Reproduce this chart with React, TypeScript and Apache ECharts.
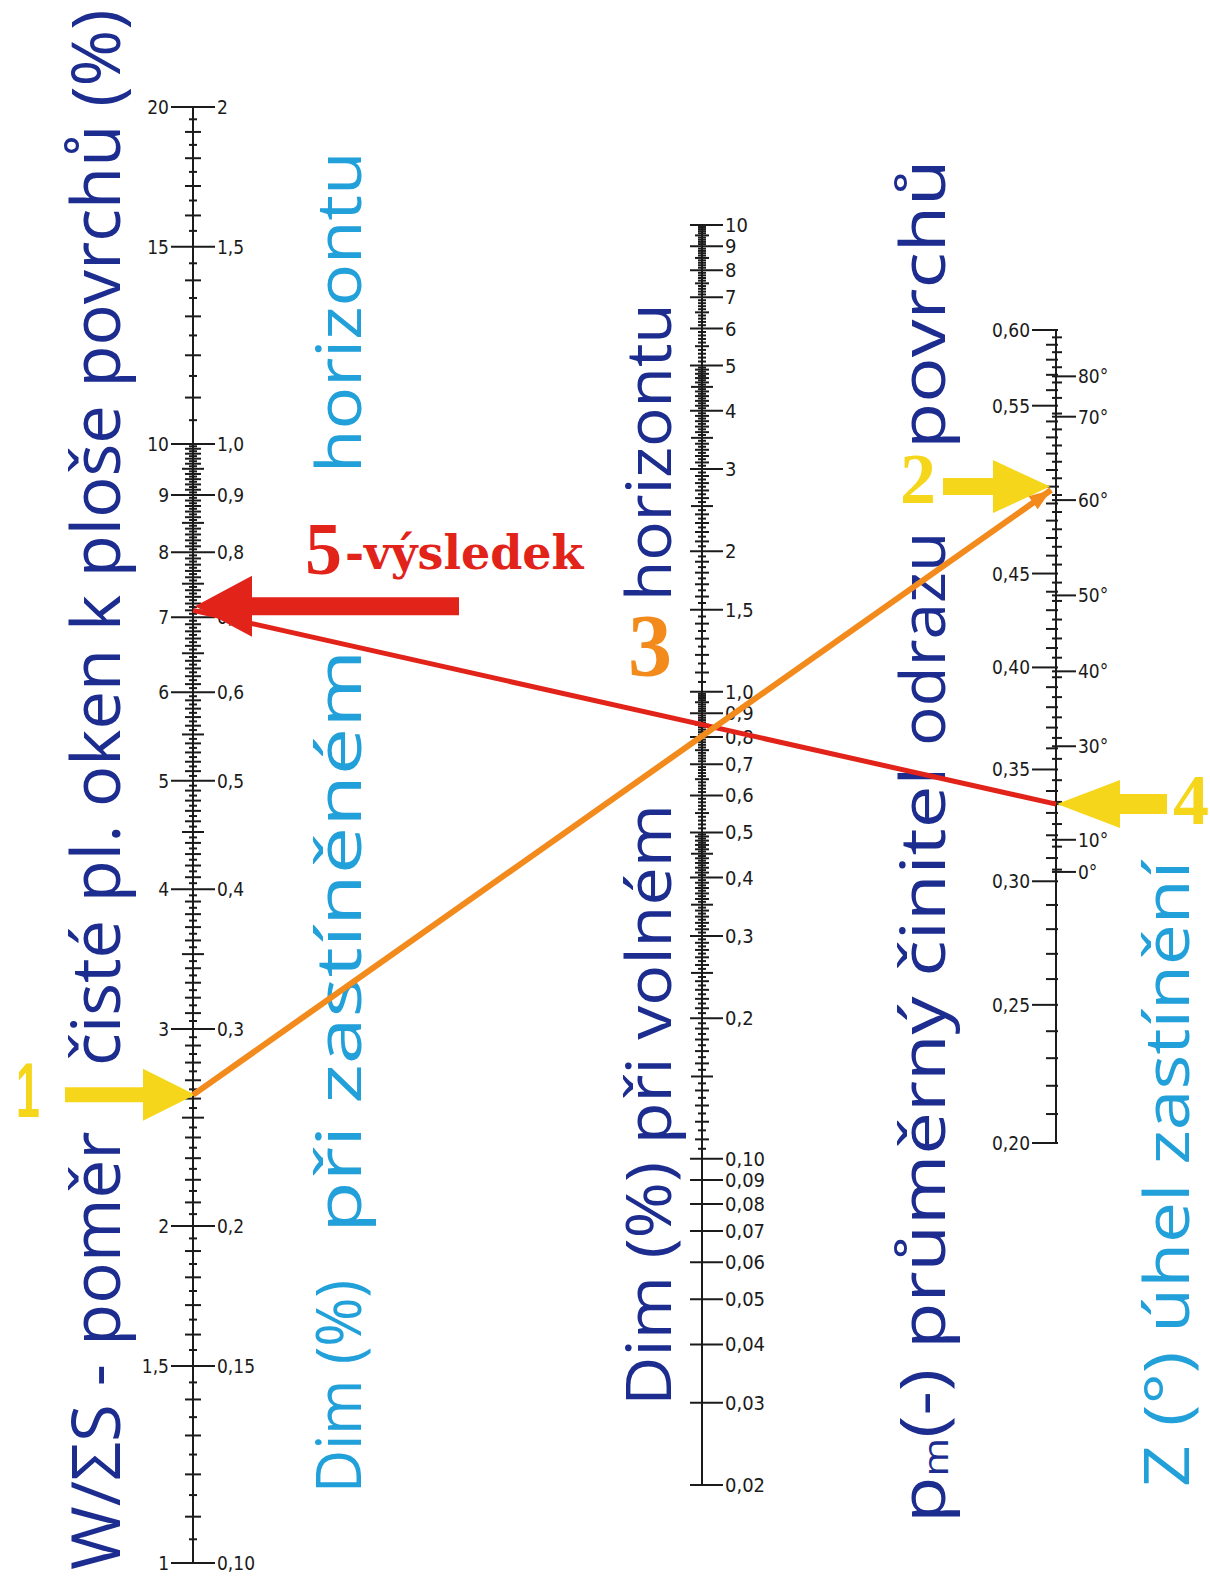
import React, { useEffect, useRef } from "react";
import * as echarts from "echarts";

// ---------- left scale: W/ΣS (%) with the shaded-horizon Dim (%) twin labels ----------
const wsValues = [1, 1.5, 2, 3, 4, 5, 6, 7, 8, 9, 10, 15, 20];
const wsLabels = ["1", "1,5", "2", "3", "4", "5", "6", "7", "8", "9", "10", "15", "20"];
const dimShadedLabels = ["0,10", "0,15", "0,2", "0,3", "0,4", "0,5", "0,6", "0,7", "0,8", "0,9", "1,0", "1,5", "2"];
// graduation segments: [from, to, step, mediumEvery, longEvery]
const wsGraduation = [
  [1, 10, 0.05, 0.1, 0.5],
  [10, 20, 0.5, 1, 5],
];

// ---------- middle scale: Dim (%) with an unobstructed horizon ----------
const dimFreeValues = [0.02, 0.03, 0.04, 0.05, 0.06, 0.07, 0.08, 0.09, 0.1, 0.2, 0.3, 0.4, 0.5, 0.6, 0.7, 0.8, 0.9, 1, 1.5, 2, 3, 4, 5, 6, 7, 8, 9, 10];
const dimFreeLabels = ["0,02", "0,03", "0,04", "0,05", "0,06", "0,07", "0,08", "0,09", "0,10", "0,2", "0,3", "0,4", "0,5", "0,6", "0,7", "0,8", "0,9", "1,0", "1,5", "2", "3", "4", "5", "6", "7", "8", "9", "10"];
const dimFreeGraduation = [
  [0.02, 0.05, 0.01, 0.01, 0.05],
  [0.05, 0.1, 0.01, 0.01, 0.05],
  [0.1, 0.5, 0.005, 0.01, 0.05],
  [0.5, 1, 0.01, 0.05, 0.1],
  [1, 5, 0.05, 0.1, 0.5],
  [5, 10, 0.1, 0.5, 1],
];

// ---------- right scale: mean reflectance pm (-) ----------
const pmValues = [0.2, 0.25, 0.3, 0.35, 0.4, 0.45, 0.5, 0.55, 0.6];
const pmLabels = ["0,20", "0,25", "0,30", "0,35", "0,40", "0,45", "", "0,55", "0,60"];
const pmGraduation = [
  [0.2, 0.3, 0.01, 0.01, 0.05],
  [0.3, 0.6, 0.005, 0.01, 0.05],
];
// the pm line is logarithmic in (pm + pmScaleShift)
const pmScaleShift = 0.2;

// ---------- obstruction angle Z (°), read on the same right-hand line ----------
const zAngles = [0, 10, 20, 30, 40, 50, 60, 70, 80];
const zAtPm = [0.304, 0.318, 0.334, 0.361, 0.398, 0.438, 0.492, 0.543, 0.569];
const zLabels = ["0°", "10°", "", "30°", "40°", "50°", "60°", "70°", "80°"];

// ---------- worked example, steps 1–5 ----------
const stepWs = 2.62; // 1: W/ΣS
const stepPm = 0.5; // 2: pm
const stepDimFree = 0.84; // 3: Dim, free horizon
const stepZ = 20; // 4: Z
const stepResultWs = 7.1; // 5: result read on the left line

const INK = "#1b1b1b";
const NAVY = "#1c2d8f";
const SKY = "#22a0da";
const ORANGE = "#f28a1c";
const YELLOW = "#f6d61a";
const RED = "#e2231a";
const TICK_FONT = "19px 'DejaVu Sans Condensed', 'DejaVu Sans', sans-serif";
const MID_FONT = "20px 'DejaVu Sans Condensed', 'DejaVu Sans', sans-serif";
const TITLE_FAMILY = "'Open Sans', 'Noto Sans', sans-serif";

type Tick = { v: number; l: number; r: number; w: number; left?: string; right?: string; font?: string };
type Len = { small: number[]; medium: number[]; long: number[] };

const near = (a: number, b: number) => Math.abs(a - b) < 1e-6;
const isMultiple = (v: number, m: number) => Math.abs(v / m - Math.round(v / m)) < 1e-6;

function graduate(segments: number[][], skip: number[], len: Len): Tick[] {
  const out: Tick[] = [];
  const taken = (v: number) => skip.some((s) => near(s, v)) || out.some((t) => near(t.v, v));
  for (const [from, to, step, medEvery, longEvery] of segments) {
    const n0 = Math.round(from / step);
    const n1 = Math.round(to / step);
    for (let i = n0; i <= n1; i++) {
      const v = +(i * step).toFixed(6);
      if (taken(v)) continue;
      const kind = isMultiple(v, longEvery) ? "long" : isMultiple(v, medEvery) ? "medium" : "small";
      const [l, r] = len[kind];
      out.push({ v, l, r, w: 2 });
    }
  }
  return out;
}

const leftTicks: Tick[] = [
  ...graduate(wsGraduation, wsValues, { small: [4, 4], medium: [8, 8], long: [11, 11] }),
  ...wsValues.map((v, i) => ({ v, l: 22, r: 22, w: 2, left: wsLabels[i], right: dimShadedLabels[i] })),
];

const midTicks: Tick[] = [
  ...graduate(dimFreeGraduation, dimFreeValues, { small: [4, 4], medium: [7, 7], long: [11, 11] }),
  ...dimFreeValues.map((v, i) => ({ v, l: 12, r: 21, w: 2, right: dimFreeLabels[i], font: MID_FONT })),
];

const rightTicks: Tick[] = [
  ...graduate(pmGraduation, pmValues, { small: [4, 6], medium: [10, 2], long: [14, 3] }),
  ...pmValues.map((v, i) =>
    pmLabels[i] ? { v, l: 24, r: 2, w: 2, left: pmLabels[i] } : { v, l: 14, r: 3, w: 2 }
  ),
  ...zAngles.map((z, i) => ({ v: zAtPm[i], l: 4, r: 20, w: 2, right: zLabels[i] })),
].map((t) => ({ ...t, v: t.v + pmScaleShift }));

// line positions and value ranges of the three scales
const scales = [
  { x: 193, top: 107, bottom: 1563, min: 1, max: 20, ticks: leftTicks },
  { x: 702, top: 225, bottom: 1485, min: 0.02, max: 10, ticks: midTicks },
  { x: 1056, top: 330, bottom: 1143, min: 0.2 + pmScaleShift, max: 0.6 + pmScaleShift, ticks: rightTicks },
];

function tickSeries(index: number, ticks: Tick[]) {
  return {
    type: "custom",
    xAxisIndex: index,
    yAxisIndex: index,
    clip: false,
    silent: true,
    z: 3,
    data: ticks.map((t) => [0, t.v]),
    renderItem: (params: any, api: any) => {
      const t = ticks[params.dataIndex];
      const p = api.coord([0, api.value(1)]);
      const font = t.font || TICK_FONT;
      const children: any[] = [
        {
          type: "line",
          shape: { x1: p[0] - t.l, y1: p[1], x2: p[0] + t.r, y2: p[1] },
          style: { stroke: INK, lineWidth: t.w },
        },
      ];
      if (t.left) {
        children.push({
          type: "text",
          style: {
            text: t.left, x: p[0] - t.l - 2, y: p[1],
            align: "right", verticalAlign: "middle", textAlign: "right", textVerticalAlign: "middle",
            font, fill: INK,
          },
        });
      }
      if (t.right) {
        children.push({
          type: "text",
          style: {
            text: t.right, x: p[0] + t.r + 2, y: p[1],
            align: "left", verticalAlign: "middle", textAlign: "left", textVerticalAlign: "middle",
            font, fill: INK,
          },
        });
      }
      return { type: "group", children };
    },
  };
}

function buildOption(): any {
  return {
    animation: false,
    backgroundColor: "#ffffff",
    grid: scales.map((s) => ({ left: s.x - 60, top: s.top, width: 120, height: s.bottom - s.top })),
    xAxis: scales.map((_, i) => ({ type: "value", gridIndex: i, min: -60, max: 60, show: false })),
    yAxis: scales.map((s, i) => ({ type: "log", logBase: 10, gridIndex: i, min: s.min, max: s.max, show: false })),
    series: [
      ...scales.map((s, i) => ({
        type: "line",
        xAxisIndex: i,
        yAxisIndex: i,
        data: [[0, s.min], [0, s.max]],
        symbol: "none",
        silent: true,
        z: 2,
        lineStyle: { color: INK, width: 2 },
      })),
      ...scales.map((s, i) => tickSeries(i, s.ticks)),
    ],
  };
}

function arrow(tx: number, ty: number, dir: number, headLen: number, headH: number, shaftLen: number, shaftH: number) {
  const b = tx - dir * headLen;
  const e = b - dir * shaftLen;
  return [
    [tx, ty], [b, ty - headH / 2], [b, ty - shaftH / 2], [e, ty - shaftH / 2],
    [e, ty + shaftH / 2], [b, ty + shaftH / 2], [b, ty + headH / 2],
  ];
}

// caption written bottom-to-top, stretched along its reading direction
function title(text: string, x: number, y: number, color: string, size: number, stretch: number) {
  return {
    type: "text",
    x,
    y,
    rotation: Math.PI / 2,
    scaleX: stretch,
    z: 1,
    silent: true,
    style: {
      text,
      font: `${size}px ${TITLE_FAMILY}`,
      fill: color,
      align: "left", verticalAlign: "middle", textAlign: "left", textVerticalAlign: "middle",
    },
  };
}

function digit(text: string, x: number, y: number, color: string, font: string, align = "left", scaleX = 1) {
  return {
    type: "text",
    x,
    y,
    scaleX,
    z: 30,
    silent: true,
    style: {
      text, font, fill: color,
      align, verticalAlign: "middle", textAlign: align, textVerticalAlign: "middle",
    },
  };
}

function buildOverlay(chart: any): any[] {
  const L = (v: number) => chart.convertToPixel({ xAxisIndex: 0, yAxisIndex: 0 }, [0, v]);
  const M = (v: number) => chart.convertToPixel({ xAxisIndex: 1, yAxisIndex: 1 }, [0, v]);
  const R = (pm: number) => chart.convertToPixel({ xAxisIndex: 2, yAxisIndex: 2 }, [0, pm + pmScaleShift]);

  const p1 = L(stepWs);
  const p2 = R(stepPm);
  const p3 = M(stepDimFree);
  const p4 = R(zAtPm[zAngles.indexOf(stepZ)]);
  const p5 = L(stepResultWs);

  // small arrowhead closing the orange construction line
  const dx = p2[0] - p1[0];
  const dy = p2[1] - p1[1];
  const n = Math.hypot(dx, dy);
  const ux = dx / n;
  const uy = dy / n;
  const tip = [p2[0] - ux * 6, p2[1] - uy * 6];
  const base = [tip[0] - ux * 22, tip[1] - uy * 22];
  const head = [tip, [base[0] - uy * 8, base[1] + ux * 8], [base[0] + uy * 8, base[1] - ux * 8]];

  const serifBold = (px: number) => `bold ${px}px 'Liberation Serif', 'DejaVu Serif', serif`;

  const pmCaption = {
    ...title("", 921, 1523, NAVY, 62, 1.225),
    style: {
      text: "{p|p}{s|m}{t|(-) průměrný činitel}",
      fill: NAVY,
      align: "left", verticalAlign: "middle", textAlign: "left", textVerticalAlign: "middle",
      rich: {
        p: { font: `62px ${TITLE_FAMILY}`, fill: NAVY },
        s: { font: `34px ${TITLE_FAMILY}`, fill: NAVY, verticalAlign: "bottom" },
        t: { font: `62px ${TITLE_FAMILY}`, fill: NAVY },
      },
    },
  };

  return [
    // rotated captions of the scales
    title("W/ΣS - poměr", 94, 1570, NAVY, 67, 1.03),
    title("čisté pl. oken k ploše povrchů (%)", 94, 1066, NAVY, 67, 1.025),
    title("Dim (%)", 337, 1493, SKY, 62, 0.96),
    title("při zastíněném", 337, 1233, SKY, 62, 1.36),
    title("horizontu", 337, 473, SKY, 62, 1.145),
    title("Dim (%) při volném", 647, 1406, NAVY, 62, 1.1),
    title("horizontu", 647, 601, NAVY, 62, 1.06),
    pmCaption,
    title("odrazu", 921, 746, NAVY, 62, 1.06),
    title("povrchů", 921, 449, NAVY, 62, 1.22),
    title("Z (°) úhel zastínění", 1165, 1487, SKY, 62, 1.18),

    // construction lines and step arrows
    {
      type: "line", z: 10, silent: true,
      shape: { x1: p4[0], y1: p4[1], x2: p5[0], y2: p5[1] },
      style: { stroke: RED, lineWidth: 5 },
    },
    {
      type: "polygon", z: 15, silent: true,
      shape: { points: arrow(p1[0] + 2, p1[1], 1, 52, 52, 78, 15) },
      style: { fill: YELLOW },
    },
    {
      type: "polygon", z: 15, silent: true,
      shape: { points: arrow(p2[0] - 6, p2[1], 1, 57, 53, 50, 17) },
      style: { fill: YELLOW },
    },
    {
      type: "polygon", z: 15, silent: true,
      shape: { points: arrow(p4[0] + 1, p4[1], -1, 63, 48, 47, 20) },
      style: { fill: YELLOW },
    },
    {
      type: "polygon", z: 16, silent: true,
      shape: { points: arrow(p5[0] + 2, p5[1] - 4, -1, 57, 61, 207, 18) },
      style: { fill: RED },
    },
    {
      type: "line", z: 20, silent: true,
      shape: { x1: p1[0], y1: p1[1], x2: tip[0], y2: tip[1] },
      style: { stroke: ORANGE, lineWidth: 6 },
    },
    { type: "polygon", z: 20, silent: true, shape: { points: head }, style: { fill: ORANGE } },

    // step numbers
    digit("1", 28, p1[1] - 5, YELLOW, `bold 78px 'Liberation Sans', sans-serif`, "center", 0.55),
    digit("2", p2[0] - 156, p2[1] - 8, YELLOW, serifBold(72)),
    digit("3", p3[0] - 74, p3[1] - 82, ORANGE, serifBold(88)),
    digit("4", p4[0] + 117, p4[1] - 4, YELLOW, serifBold(72)),
    digit("5", 305, 549, RED, serifBold(74)),
    digit("-výsledek", 345, 553, RED, "bold 46px 'DejaVu Serif', serif"),
  ];
}

export default function App() {
  const ref = useRef<HTMLDivElement>(null);
  useEffect(() => {
    const chart = echarts.init(ref.current as HTMLDivElement, null, { renderer: "svg" });
    chart.setOption(buildOption());
    chart.setOption({ graphic: buildOverlay(chart) });
    return () => chart.dispose();
  }, []);
  return (
    <div
      ref={ref}
      style={{ position: "absolute", left: 0, top: 0, width: 1210, height: 1592, background: "#ffffff" }}
    />
  );
}
